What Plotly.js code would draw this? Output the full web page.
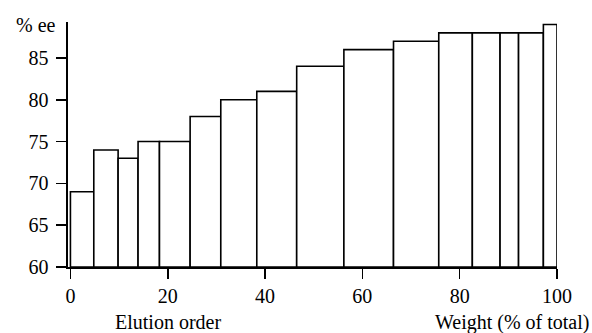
<!DOCTYPE html>
<html>
<head>
<meta charset="utf-8">
<script src="https://cdn.plot.ly/plotly-3.0.1.min.js"></script>
<style>html,body{margin:0;padding:0;background:#fff;}#chart{width:592px;height:333px;}</style>
</head>
<body>
<div id="chart"></div>
<script>
// Fraction boundaries (cumulative weight, % of total)
var edges = [0, 4.8, 9.8, 13.9, 18.3, 24.6, 30.9, 38.3, 46.5, 56.2, 66.4, 75.7, 82.6, 88.3, 92.1, 97.2, 100];
// % ee of each fraction
var ee = [69, 74, 73, 75, 75, 78, 80, 81, 84, 86, 87, 88, 88, 88, 88, 89];
var xTicks = [0, 20, 40, 60, 80, 100];
var yTicks = [60, 65, 70, 75, 80, 85];

var centers = [], widths = [];
for (var i = 0; i < ee.length; i++) {
  centers.push((edges[i] + edges[i + 1]) / 2);
  widths.push(edges[i + 1] - edges[i]);
}
var font = {family: 'Liberation Serif, Times New Roman, serif', size: 20, color: '#000'};

var trace = {
  type: 'bar',
  x: centers,
  y: ee.map(function (v) { return v - 60; }),
  base: 60,
  width: widths,
  marker: {color: '#fff', line: {color: '#000', width: 1.6}},
  cliponaxis: false,
  hoverinfo: 'none'
};

var layout = {
  width: 592, height: 333,
  margin: {l: 68, r: 35, t: 22, b: 66},
  paper_bgcolor: '#fff', plot_bgcolor: '#fff',
  showlegend: false,
  font: font,
  xaxis: {
    range: [-0.5, 100], tickvals: xTicks, ticktext: xTicks.map(String),
    showgrid: false, zeroline: false, showline: true, linecolor: '#000', linewidth: 1.6,
    ticks: 'outside', ticklen: 10, tickwidth: 1.6, tickcolor: '#000',
    tickfont: font, fixedrange: true
  },
  yaxis: {
    range: [60, 89.3], tickvals: yTicks, ticktext: yTicks.map(String),
    showgrid: false, zeroline: false, showline: true, linecolor: '#000', linewidth: 1.6,
    ticks: 'outside', ticklen: 10, tickwidth: 1.6, tickcolor: '#000',
    tickfont: font, ticklabelstandoff: 4, fixedrange: true
  },
  annotations: [
    {text: '% ee', xref: 'paper', yref: 'paper', x: 0, y: 1.0, xanchor: 'right', yanchor: 'middle', showarrow: false, font: font, xshift: -10, yshift: -3},
    {text: 'Elution order', xref: 'x', yref: 'paper', x: 20, y: 0, xanchor: 'center', yanchor: 'top', showarrow: false, font: font, yshift: -42},
    {text: 'Weight (% of total)', xref: 'paper', yref: 'paper', x: 1, y: 0, xanchor: 'right', yanchor: 'top', showarrow: false, font: font, xshift: 34, yshift: -42}
  ]
};

Plotly.newPlot('chart', [trace], layout, {displayModeBar: false, staticPlot: true});
</script>
</body>
</html>
